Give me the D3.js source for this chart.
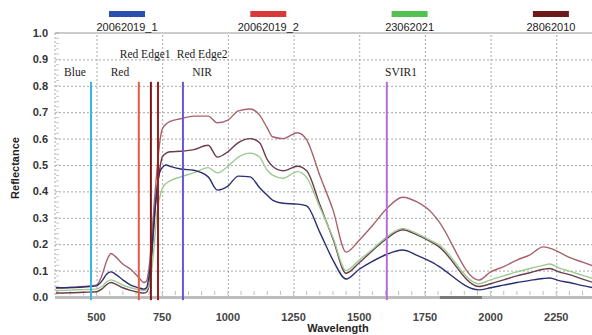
<!DOCTYPE html>
<html>
<head>
<meta charset="utf-8">
<script src="https://cdn.jsdelivr.net/npm/d3@7"></script>
<style>
  body { margin: 0; background: #fff; }
  svg { display: block; font-family: Arial, "Liberation Sans", sans-serif; }
</style>
</head>
<body>
<div id="chart"></div>
<script>
const wavelengths = [345, 400, 450, 500, 520, 540, 555, 570, 600, 630, 660, 680, 690, 700, 710, 720, 730, 740, 750, 765, 780, 820, 870, 925, 960, 1000, 1040, 1085, 1120, 1150, 1170, 1210, 1265, 1300, 1350, 1400, 1450, 1500, 1550, 1605, 1665, 1720, 1780, 1800, 1955, 2000, 2050, 2100, 2150, 2200, 2225, 2260, 2300, 2350, 2390];

const s20062019_2 = [0.034, 0.036, 0.040, 0.045, 0.080, 0.140, 0.165, 0.155, 0.125, 0.105, 0.075, 0.055, 0.060, 0.110, 0.220, 0.360, 0.480, 0.580, 0.635, 0.655, 0.665, 0.675, 0.685, 0.685, 0.660, 0.670, 0.705, 0.712, 0.690, 0.640, 0.607, 0.600, 0.622, 0.595, 0.460, 0.330, 0.170, 0.215, 0.270, 0.335, 0.378, 0.360, 0.315, 0.290, 0.064, 0.095, 0.115, 0.140, 0.160, 0.190, 0.185, 0.170, 0.150, 0.132, 0.118];
const s28062010 = [0.015, 0.016, 0.018, 0.020, 0.030, 0.048, 0.055, 0.050, 0.035, 0.025, 0.018, 0.015, 0.018, 0.045, 0.150, 0.290, 0.400, 0.480, 0.530, 0.545, 0.550, 0.552, 0.558, 0.575, 0.530, 0.550, 0.585, 0.600, 0.585, 0.520, 0.495, 0.478, 0.495, 0.478, 0.350, 0.220, 0.090, 0.130, 0.175, 0.222, 0.255, 0.235, 0.205, 0.193, 0.040, 0.050, 0.065, 0.080, 0.092, 0.105, 0.108, 0.095, 0.085, 0.068, 0.055];
const s23062021 = [0.025, 0.026, 0.028, 0.030, 0.040, 0.058, 0.065, 0.060, 0.045, 0.035, 0.028, 0.025, 0.028, 0.045, 0.100, 0.200, 0.320, 0.375, 0.410, 0.430, 0.440, 0.455, 0.470, 0.490, 0.470, 0.495, 0.530, 0.545, 0.530, 0.480, 0.462, 0.450, 0.475, 0.452, 0.340, 0.225, 0.100, 0.140, 0.180, 0.228, 0.260, 0.240, 0.210, 0.200, 0.050, 0.065, 0.080, 0.095, 0.108, 0.120, 0.125, 0.110, 0.098, 0.082, 0.070];
const s20062019_1 = [0.035, 0.036, 0.038, 0.042, 0.060, 0.088, 0.095, 0.088, 0.065, 0.045, 0.035, 0.030, 0.035, 0.080, 0.170, 0.300, 0.410, 0.470, 0.490, 0.500, 0.495, 0.485, 0.480, 0.455, 0.405, 0.420, 0.458, 0.455, 0.415, 0.385, 0.367, 0.355, 0.352, 0.345, 0.245, 0.140, 0.068, 0.105, 0.135, 0.162, 0.178, 0.158, 0.130, 0.118, 0.027, 0.035, 0.045, 0.055, 0.063, 0.070, 0.072, 0.062, 0.055, 0.043, 0.035];

const legendNames = ['20062019_1', '20062019_2', '23062021', '28062010'];
const legendColors = ['#2b4fae', '#d83a3a', '#52c152', '#6e1a1a'];

const bandNames = ['Blue', 'Red', 'Red Edge1', 'Red Edge2', 'NIR', 'SVIR1'];
const bandWave = [479, 661, 707, 734, 829, 1605];
const bandColors = ['#3ab4e4', '#e25a4a', '#7d1515', '#a01e1e', '#6655d6', '#b56fd4'];
const labelWave = [418, 589, 685, 902, 902, 1659];
const labelRefl = [0.852, 0.852, 0.92, 0.92, 0.852, 0.852];

const xTicks = [500, 750, 1000, 1250, 1500, 1750, 2000, 2250];
const yTicks = [0, 0.1, 0.2, 0.3, 0.4, 0.5, 0.6, 0.7, 0.8, 0.9, 1.0];
const maskedRange = [1807, 1967];

const W = 592, H = 335;
const svg = d3.select('#chart').append('svg').attr('width', W).attr('height', H);

const x = d3.scaleLinear().domain([342, 2386]).range([55, 592]);
const y = d3.scaleLinear().domain([0, 1]).range([297, 33]);

svg.append('defs').append('clipPath').attr('id', 'plot')
  .append('rect').attr('x', 55).attr('y', 20).attr('width', 537).attr('height', 282);

// grid
svg.append('g')
  .call(d3.axisLeft(y).tickValues(yTicks.slice(1, 10)).tickSize(-537).tickFormat(''))
  .attr('transform', 'translate(55,0)')
  .call(g => g.select('.domain').remove())
  .selectAll('line').attr('stroke', '#a8a8a8').attr('stroke-dasharray', '2,2');
svg.append('g')
  .call(d3.axisBottom(x).tickValues(xTicks).tickSize(-264).tickFormat(''))
  .attr('transform', 'translate(0,297)')
  .call(g => g.select('.domain').remove())
  .selectAll('line').attr('stroke', '#a8a8a8').attr('stroke-dasharray', '2,2');

// left dotted axis line + minor ticks
svg.append('line').attr('x1', 55).attr('x2', 55).attr('y1', 33).attr('y2', 297)
  .attr('stroke', '#a8a8a8').attr('stroke-dasharray', '2,2');
svg.append('g').selectAll('line').data(d3.range(0, 1.001, 0.02)).join('line')
  .attr('x1', 56).attr('x2', 59).attr('y1', d => y(d)).attr('y2', d => y(d))
  .attr('stroke', '#c8c8c8');

// top border
svg.append('line').attr('x1', 55).attr('x2', 592).attr('y1', 33).attr('y2', 33)
  .attr('stroke', '#9a9a9a').attr('stroke-width', 1.2);

// bottom minor ticks
svg.append('g').selectAll('line').data(d3.range(350, 2400, 50)).join('line')
  .attr('x1', d => x(d)).attr('x2', d => x(d)).attr('y1', 295).attr('y2', 291)
  .attr('stroke', '#c0c0c0');

// curves
const series = [
  { vals: s20062019_2, color: '#a8626a' },
  { vals: s28062010, color: '#6b3c4c' },
  { vals: s23062021, color: '#9ccb92' },
  { vals: s20062019_1, color: '#2b2f72' }
];
const line = d3.line().x((d, i) => x(wavelengths[i])).y(d => y(d)).curve(d3.curveMonotoneX);
svg.append('g').attr('clip-path', 'url(#plot)').selectAll('path').data(series).join('path')
  .attr('d', d => line(d.vals)).attr('fill', 'none')
  .attr('stroke', d => d.color).attr('stroke-width', 1.4);

// baseline
svg.append('line').attr('x1', 55).attr('x2', 592).attr('y1', 297.5).attr('y2', 297.5)
  .attr('stroke', '#bdbdbd').attr('stroke-width', 3);
svg.append('line').attr('x1', x(maskedRange[0])).attr('x2', x(maskedRange[1])).attr('y1', 297.5).attr('y2', 297.5)
  .attr('stroke', '#7a7a7a').attr('stroke-width', 3);

// band markers
svg.append('g').selectAll('line').data(bandWave).join('line')
  .attr('x1', d => x(d)).attr('x2', d => x(d))
  .attr('y1', y(0.815)).attr('y2', y(-0.012))
  .attr('stroke', (d, i) => bandColors[i]).attr('stroke-width', 2);
svg.append('g').selectAll('text').data(bandNames).join('text')
  .attr('x', (d, i) => x(labelWave[i])).attr('y', (d, i) => y(labelRefl[i]) + 4)
  .attr('text-anchor', 'middle')
  .style('font-family', '"Liberation Serif", "DejaVu Serif", serif')
  .style('font-size', '11.5px').style('fill', '#222').text(d => d);

// y axis labels
svg.append('g').selectAll('text').data(yTicks).join('text')
  .attr('x', 48).attr('y', d => y(d) + 4).attr('text-anchor', 'end')
  .style('font-size', '11px').style('font-weight', 'bold').style('fill', '#333')
  .text(d => d.toFixed(1));

// x axis labels
svg.append('g').selectAll('text').data(xTicks).join('text')
  .attr('x', d => x(d)).attr('y', 321).attr('text-anchor', 'middle')
  .style('font-size', '11px').style('font-weight', 'bold').style('fill', '#444')
  .text(d => d);

svg.append('text').attr('x', 338).attr('y', 332).attr('text-anchor', 'middle')
  .style('font-size', '11px').style('font-weight', 'bold').style('fill', '#222').text('Wavelength');
svg.append('text').attr('transform', 'translate(19,168) rotate(-90)').attr('text-anchor', 'middle')
  .style('font-size', '11px').style('font-weight', 'bold').style('fill', '#222').text('Reflectance');

// legend
const lg = svg.append('g').selectAll('g').data(legendNames).join('g')
  .attr('transform', (d, i) => `translate(${127 + i * 141.3},0)`);
lg.append('rect').attr('x', -18).attr('y', 11).attr('width', 36).attr('height', 6)
  .attr('fill', (d, i) => legendColors[i]);
lg.append('text').attr('y', 31).attr('text-anchor', 'middle')
  .style('font-size', '11px').style('fill', '#222').text(d => d);
</script>
</body>
</html>
